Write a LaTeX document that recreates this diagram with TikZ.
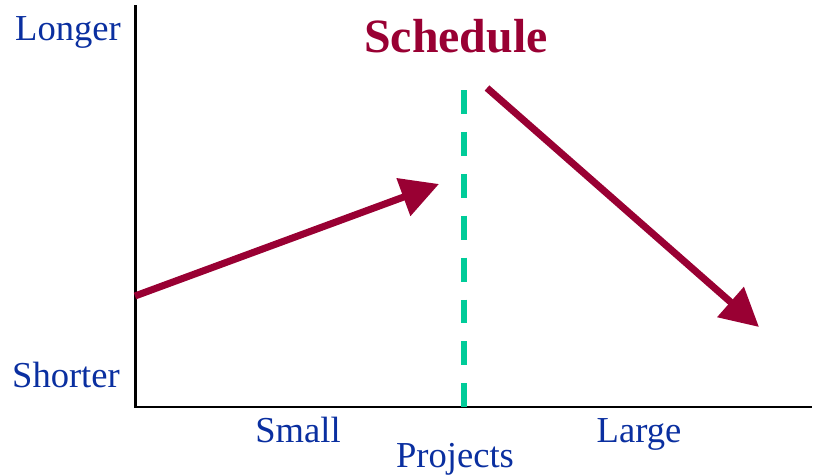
\documentclass[tikz,border=0pt]{standalone}
\usepackage{fontspec}
\setmainfont{Liberation Serif}
\usepackage{tikz}
\usetikzlibrary{arrows.meta}
\definecolor{axisblue}{HTML}{0A2FA0}
\definecolor{trendred}{HTML}{990033}
\definecolor{splitgreen}{HTML}{00CC99}

\begin{document}
\begin{tikzpicture}[
    x=0.025cm, y=-0.025cm,
    axislabel/.style={font=\fontsize{26}{30}\selectfont, color=axisblue,
                      anchor=base, inner sep=0pt},
    trend/.style={-{Triangle[length=27pt, width=27.5pt]}, color=trendred,
                  line width=5pt},
    split/.style={color=splitgreen, line width=4.2pt,
                  dash pattern=on 17pt off 12.8pt},
]
\useasboundingbox (0,0) rectangle (814,474);

% Axes
\coordinate (top) at (135.5,5);
\coordinate (origin) at (135.5,407);
\coordinate (right) at (812,407);
\draw[line width=1.5pt] (top) -- (origin) -- (right);

% Axis labels
\node[axislabel] (longer) at (68,40) {Longer};
\node[axislabel] (shorter) at (66,387) {Shorter};
\node[axislabel] (small) at (298,442) {Small};
\node[axislabel] (large) at (639,442) {Large};
\node[axislabel] (projects) at (455,467) {Projects};

% Title
\node[axislabel, color=trendred, font=\fontsize{34}{38}\selectfont\bfseries]
    (title) at (456,52) {Schedule};

% Split between small and large projects
\coordinate (splittop) at (464,90);
\coordinate (splitbot) at (464,407);
\draw[split] (splittop) -- (splitbot);

% Trends
\coordinate (smallstart) at (135,296);
\coordinate (smallend) at (439,184);
\coordinate (largestart) at (487,88);
\coordinate (largeend) at (759,327);
\draw[trend] (smallstart) -- (smallend);
\draw[trend] (largestart) -- (largeend);

\end{tikzpicture}
\end{document}
